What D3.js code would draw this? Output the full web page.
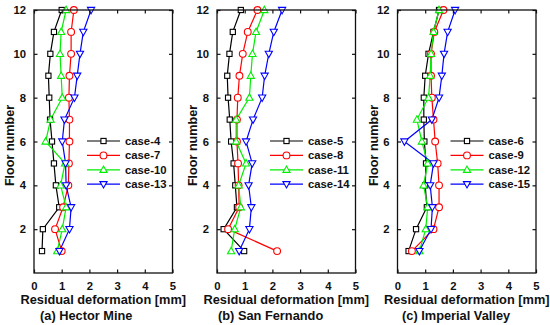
<!DOCTYPE html>
<html>
<head>
<meta charset="utf-8">
<script src="https://cdn.jsdelivr.net/npm/d3@7"></script>
<style>
  html, body { margin: 0; padding: 0; background: #fff; }
  svg { display: block; }
  text { font-family: Arial, "Liberation Sans", sans-serif; font-weight: bold; fill: #111; }
</style>
</head>
<body>
<svg id="chart" width="550" height="325"></svg>
<script>
// ---- data ----
const floors = [1, 2, 3, 4, 5, 6, 7, 8, 9, 10, 11, 12];
const xTicks = [0, 1, 2, 3, 4, 5];
const yTicks = [2, 4, 6, 8, 10, 12];

// (a) Hector Mine
const case4  = [0.29, 0.32, 0.91, 0.79, 0.72, 0.65, 0.58, 0.55, 0.52, 0.59, 0.72, 1.00];
const case7  = [1.00, 0.76, 1.05, 1.24, 1.26, 1.28, 1.28, 1.26, 1.28, 1.34, 1.34, 1.44];
const case10 = [0.84, 1.02, 1.16, 0.96, 1.12, 0.42, 0.60, 1.02, 0.98, 0.94, 0.98, 1.16];
const case13 = [0.92, 1.28, 1.34, 1.16, 1.14, 1.02, 1.10, 1.46, 1.56, 1.66, 1.78, 2.06];

// (b) San Fernando
const case5  = [0.98, 0.24, 0.72, 0.66, 0.60, 0.51, 0.46, 0.40, 0.37, 0.45, 0.57, 0.86];
const case8  = [2.17, 0.40, 0.80, 0.78, 0.76, 0.72, 0.72, 0.75, 0.81, 0.93, 1.11, 1.46];
const case11 = [0.51, 0.64, 0.86, 0.78, 1.05, 0.69, 0.69, 1.17, 1.22, 1.28, 1.41, 1.71];
const case14 = [0.80, 1.17, 1.24, 1.14, 1.27, 1.05, 1.30, 1.63, 1.72, 1.87, 2.05, 2.35];

// (c) Imperial Valley
const case6  = [0.40, 0.67, 1.06, 1.00, 1.03, 0.97, 0.95, 0.95, 1.00, 1.12, 1.30, 1.50];
const case9  = [0.52, 1.30, 1.50, 1.50, 1.45, 1.36, 1.30, 1.24, 1.21, 1.21, 1.33, 1.66];
const case12 = [0.79, 1.02, 1.09, 0.94, 1.09, 0.88, 0.70, 1.12, 1.18, 1.21, 1.30, 1.50];
const case15 = [0.79, 1.21, 1.26, 1.18, 1.30, 0.25, 1.24, 1.50, 1.60, 1.68, 1.81, 2.08];

const panelTitles = ["(a) Hector Mine", "(b) San Fernando", "(c) Imperial Valley"];
const xLabel = "Residual deformation [mm]";
const yLabel = "Floor number";

const panels = [
  { title: panelTitles[0], series: [
      { name: "case-4", values: case4 }, { name: "case-7", values: case7 },
      { name: "case-10", values: case10 }, { name: "case-13", values: case13 } ] },
  { title: panelTitles[1], series: [
      { name: "case-5", values: case5 }, { name: "case-8", values: case8 },
      { name: "case-11", values: case11 }, { name: "case-14", values: case14 } ] },
  { title: panelTitles[2], series: [
      { name: "case-6", values: case6 }, { name: "case-9", values: case9 },
      { name: "case-12", values: case12 }, { name: "case-15", values: case15 } ] }
];

// ---- styles / layout ----
const colors = ["#000000", "#ff0000", "#00ee00", "#0000ff"];
const markerTypes = ["square", "circle", "triangle", "triangleDown"];
const panelLefts = [34, 217, 397.5];
const titleStarts = [40, 218, 402];
const plotW = 138.5;
const plotTop = 10, plotBottom = 273;

const svg = d3.select("#chart");

function drawMarker(g, type, x, y, color) {
  if (type === "square") {
    g.append("rect").attr("x", x - 2.6).attr("y", y - 2.6).attr("width", 5.2).attr("height", 5.2)
      .attr("fill", "#fff").attr("stroke", color).attr("stroke-width", 1.1);
  } else if (type === "circle") {
    g.append("circle").attr("cx", x).attr("cy", y).attr("r", 3.4)
      .attr("fill", "#fff").attr("stroke", color).attr("stroke-width", 1.1);
  } else if (type === "triangle") {
    g.append("path").attr("d", `M${x},${y - 3.8}L${x + 3.6},${y + 2.6}L${x - 3.6},${y + 2.6}Z`)
      .attr("fill", "#fff").attr("stroke", color).attr("stroke-width", 1.1);
  } else {
    g.append("path").attr("d", `M${x},${y + 3.8}L${x + 3.6},${y - 2.6}L${x - 3.6},${y - 2.6}Z`)
      .attr("fill", "#fff").attr("stroke", color).attr("stroke-width", 1.1);
  }
}

panels.forEach((p, pi) => {
  const x0 = panelLefts[pi];
  const x = d3.scaleLinear().domain([0, 5]).range([x0, x0 + plotW]);
  const y = d3.scaleLinear().domain([0, 12]).range([plotBottom, plotTop]);
  const g = svg.append("g");

  // series
  p.series.forEach((s, si) => {
    const pts = floors.map((f, i) => [x(s.values[i]), y(f)]);
    g.append("path").attr("d", d3.line()(pts))
      .attr("fill", "none").attr("stroke", colors[si]).attr("stroke-width", 1.2);
  });
  p.series.forEach((s, si) => {
    floors.forEach((f, i) => drawMarker(g, markerTypes[si], x(s.values[i]), y(f), colors[si]));
  });

  // frame
  g.append("rect").attr("x", x0).attr("y", plotTop).attr("width", plotW).attr("height", plotBottom - plotTop)
    .attr("fill", "none").attr("stroke", "#111").attr("stroke-width", 1.3);

  // axes (inward ticks)
  const axB = d3.axisBottom(x).tickValues(xTicks).tickSize(-3.5).tickPadding(9).tickFormat(d3.format("d"));
  const axT = d3.axisTop(x).tickValues(xTicks).tickSize(-3.5).tickFormat("");
  const axL = d3.axisLeft(y).tickValues(yTicks).tickSize(-3.5).tickPadding(8).tickFormat(d3.format("d"));
  const axR = d3.axisRight(y).tickValues(yTicks).tickSize(-3.5).tickFormat("");
  [[axB, `translate(0,${plotBottom})`], [axT, `translate(0,${plotTop})`],
   [axL, `translate(${x0},0)`], [axR, `translate(${x0 + plotW},0)`]].forEach(([ax, tr]) => {
    const a = g.append("g").attr("transform", tr).call(ax);
    a.select(".domain").remove();
    a.selectAll("line").attr("stroke", "#111").attr("stroke-width", 1.2);
    a.selectAll("text").attr("font-size", 11.3).attr("font-weight", "bold")
      .attr("font-family", "Arial, 'Liberation Sans', sans-serif").attr("fill", "#111");
  });

  // axis labels
  g.append("text").attr("x", x0 + plotW / 2).attr("y", 304).attr("text-anchor", "middle")
    .attr("font-size", 12.8).text(xLabel);
  g.append("text").attr("transform", `translate(${x0 - 20},${(plotTop + plotBottom) / 2 + 4}) rotate(-90)`)
    .attr("text-anchor", "middle").attr("font-size", 12.6).text(yLabel);
  g.append("text").attr("x", titleStarts[pi]).attr("y", 319.5).attr("text-anchor", "start")
    .attr("font-size", 12.8).text(p.title);

  // legend
  const lg = g.append("g");
  p.series.forEach((s, si) => {
    const ly = 141 + si * 14.4;
    lg.append("line").attr("x1", x0 + 53).attr("x2", x0 + 86).attr("y1", ly).attr("y2", ly)
      .attr("stroke", colors[si]).attr("stroke-width", 1.2);
    drawMarker(lg, markerTypes[si], x0 + 69.5, ly, colors[si]);
    lg.append("text").attr("x", x0 + 91).attr("y", ly + 4).attr("font-size", 11.3).text(s.name);
  });
});
</script>
</body>
</html>
